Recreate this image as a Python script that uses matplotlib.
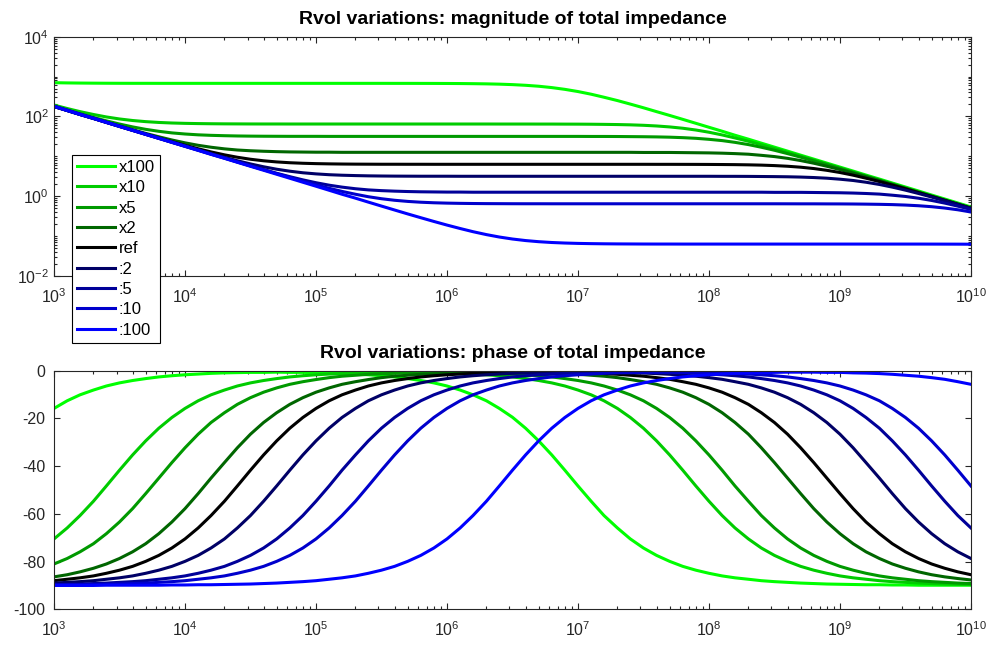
import numpy as np
import matplotlib
matplotlib.use("Agg")
import matplotlib.pyplot as plt
from matplotlib.ticker import LogLocator, FixedLocator, LogFormatterSciNotation, NullFormatter

# frequency points the curves were read at (every 0.1 decade, Hz)
freq = [1.00e3, 1.26e3, 1.58e3, 2.00e3, 2.51e3, 3.16e3, 3.98e3, 5.01e3, 6.31e3, 7.94e3,
        1.00e4, 1.26e4, 1.58e4, 2.00e4, 2.51e4, 3.16e4, 3.98e4, 5.01e4, 6.31e4, 7.94e4,
        1.00e5, 1.26e5, 1.58e5, 2.00e5, 2.51e5, 3.16e5, 3.98e5, 5.01e5, 6.31e5, 7.94e5,
        1.00e6, 1.26e6, 1.58e6, 2.00e6, 2.51e6, 3.16e6, 3.98e6, 5.01e6, 6.31e6, 7.94e6,
        1.00e7, 1.26e7, 1.58e7, 2.00e7, 2.51e7, 3.16e7, 3.98e7, 5.01e7, 6.31e7, 7.94e7,
        1.00e8, 1.26e8, 1.58e8, 2.00e8, 2.51e8, 3.16e8, 3.98e8, 5.01e8, 6.31e8, 7.94e8,
        1.00e9, 1.26e9, 1.58e9, 2.00e9, 2.51e9, 3.16e9, 3.98e9, 5.01e9, 6.31e9, 7.94e9,
        1.00e10]
freq_ticks = [1e3, 1e4, 1e5, 1e6, 1e7, 1e8, 1e9, 1e10]

labels = ["x100", "x10", "x5", "x2", "ref", ":2", ":5", ":10", ":100"]
colors = ["#00ff00", "#00cc00", "#009900", "#006600", "#000000",
          "#000066", "#000099", "#0000cc", "#0000ff"]

# |Z| per Rvol variation
mag_x100 = [702, 693, 687, 683, 680, 678, 677, 677, 676, 676,
            676, 676, 676, 676, 676, 676, 676, 676, 676, 676,
            676, 676, 676, 676, 676, 676, 675, 675, 674, 673,
            671, 668, 663, 656, 645, 628, 604, 572, 529, 478,
            421, 361, 303, 250, 204, 165, 132, 106, 84.5, 67.3,
            53.5, 42.6, 33.8, 26.9, 21.4, 17.0, 13.5, 10.7, 8.51, 6.76,
            5.37, 4.27, 3.39, 2.69, 2.14, 1.70, 1.35, 1.07, 0.851, 0.676,
            0.537]
mag_x10 = [193, 158, 132, 112, 97.1, 86.5, 79.1, 74.1, 70.7, 68.5,
           67.1, 66.2, 65.6, 65.2, 65.0, 64.8, 64.7, 64.7, 64.6, 64.6,
           64.6, 64.6, 64.6, 64.6, 64.6, 64.6, 64.6, 64.6, 64.6, 64.6,
           64.6, 64.6, 64.6, 64.6, 64.5, 64.5, 64.5, 64.4, 64.4, 64.2,
           64.1, 63.8, 63.3, 62.6, 61.6, 60.0, 57.7, 54.6, 50.6, 45.7,
           40.2, 34.4, 28.9, 23.9, 19.5, 15.7, 12.6, 10.1, 8.07, 6.42,
           5.11, 4.07, 3.23, 2.57, 2.04, 1.62, 1.29, 1.02, 0.813, 0.646,
           0.513]
mag_x5 = [181, 145, 117, 94.6, 77.5, 64.5, 54.7, 47.5, 42.4, 38.7,
          36.3, 34.6, 33.6, 32.9, 32.4, 32.1, 31.9, 31.8, 31.7, 31.7,
          31.7, 31.6, 31.6, 31.6, 31.6, 31.6, 31.6, 31.6, 31.6, 31.6,
          31.6, 31.6, 31.6, 31.6, 31.6, 31.6, 31.6, 31.6, 31.6, 31.6,
          31.6, 31.5, 31.5, 31.4, 31.2, 31.0, 30.7, 30.2, 29.4, 28.3,
          26.7, 24.8, 22.4, 19.7, 16.9, 14.2, 11.7, 9.53, 7.70, 6.19,
          4.95, 3.95, 3.15, 2.50, 1.99, 1.58, 1.26, 1.00, 0.794, 0.631,
          0.501]
mag_x2 = [178, 142, 113, 90.0, 71.9, 57.6, 46.4, 37.6, 30.9, 25.7,
          21.8, 18.9, 16.9, 15.4, 14.4, 13.8, 13.4, 13.1, 12.9, 12.8,
          12.7, 12.7, 12.6, 12.6, 12.6, 12.6, 12.6, 12.6, 12.6, 12.6,
          12.6, 12.6, 12.6, 12.6, 12.6, 12.6, 12.6, 12.6, 12.6, 12.6,
          12.6, 12.6, 12.6, 12.6, 12.6, 12.5, 12.5, 12.5, 12.4, 12.3,
          12.2, 12.0, 11.7, 11.3, 10.6, 9.86, 8.90, 7.83, 6.72, 5.64,
          4.66, 3.80, 3.07, 2.46, 1.97, 1.57, 1.25, 0.997, 0.793, 0.630,
          0.501]
mag_ref = [178, 141, 112, 89.3, 71.1, 56.6, 45.1, 36.1, 28.9, 23.3,
           18.9, 15.5, 12.9, 10.9, 9.48, 8.45, 7.73, 7.24, 6.91, 6.70,
           6.56, 6.47, 6.41, 6.37, 6.35, 6.33, 6.33, 6.32, 6.32, 6.31,
           6.31, 6.31, 6.31, 6.31, 6.31, 6.31, 6.31, 6.31, 6.31, 6.31,
           6.31, 6.31, 6.31, 6.31, 6.31, 6.31, 6.30, 6.30, 6.29, 6.28,
           6.26, 6.23, 6.19, 6.12, 6.02, 5.86, 5.64, 5.34, 4.94, 4.46,
           3.93, 3.37, 2.83, 2.33, 1.90, 1.54, 1.23, 0.988, 0.788, 0.628,
           0.500]
mag_d2 = [178, 141, 112, 89.2, 70.9, 56.3, 44.8, 35.6, 28.4, 22.6,
          18.1, 14.5, 11.7, 9.46, 7.75, 6.45, 5.47, 4.75, 4.24, 3.87,
          3.63, 3.46, 3.36, 3.29, 3.24, 3.21, 3.19, 3.18, 3.17, 3.17,
          3.17, 3.16, 3.16, 3.16, 3.16, 3.16, 3.16, 3.16, 3.16, 3.16,
          3.16, 3.16, 3.16, 3.16, 3.16, 3.16, 3.16, 3.16, 3.16, 3.16,
          3.16, 3.15, 3.15, 3.14, 3.12, 3.10, 3.07, 3.02, 2.94, 2.83,
          2.67, 2.48, 2.24, 1.97, 1.69, 1.42, 1.17, 0.954, 0.771, 0.619,
          0.495]
mag_d5 = [178, 141, 112, 89.1, 70.8, 56.2, 44.7, 35.5, 28.2, 22.4,
          17.8, 14.2, 11.3, 9.00, 7.19, 5.76, 4.64, 3.76, 3.09, 2.57,
          2.18, 1.89, 1.69, 1.54, 1.44, 1.38, 1.34, 1.31, 1.29, 1.28,
          1.27, 1.27, 1.26, 1.26, 1.26, 1.26, 1.26, 1.26, 1.26, 1.26,
          1.26, 1.26, 1.26, 1.26, 1.26, 1.26, 1.26, 1.26, 1.26, 1.26,
          1.26, 1.26, 1.26, 1.26, 1.26, 1.25, 1.25, 1.25, 1.24, 1.23,
          1.22, 1.20, 1.17, 1.13, 1.06, 0.986, 0.890, 0.783, 0.672, 0.564,
          0.466]
mag_d10 = [182, 145, 115, 91.2, 72.4, 57.5, 45.7, 36.3, 28.8, 22.9,
           18.2, 14.5, 11.5, 9.14, 7.27, 5.79, 4.62, 3.69, 2.96, 2.38,
           1.93, 1.58, 1.32, 1.12, 0.971, 0.865, 0.791, 0.741, 0.707, 0.685,
           0.671, 0.662, 0.656, 0.652, 0.650, 0.648, 0.647, 0.647, 0.646, 0.646,
           0.646, 0.646, 0.646, 0.646, 0.646, 0.646, 0.646, 0.646, 0.646, 0.646,
           0.646, 0.646, 0.646, 0.646, 0.646, 0.646, 0.645, 0.644, 0.644, 0.642,
           0.641, 0.638, 0.633, 0.626, 0.616, 0.600, 0.577, 0.546, 0.505, 0.457,
           0.402]
mag_d100 = [178, 141, 112, 89.1, 70.8, 56.2, 44.7, 35.5, 28.2, 22.4,
            17.8, 14.1, 11.2, 8.91, 7.08, 5.62, 4.47, 3.55, 2.82, 2.24,
            1.78, 1.41, 1.12, 0.894, 0.711, 0.566, 0.451, 0.360, 0.289, 0.233,
            0.189, 0.155, 0.129, 0.109, 0.0948, 0.0845, 0.0773, 0.0724, 0.0691, 0.0670,
            0.0656, 0.0647, 0.0641, 0.0637, 0.0635, 0.0633, 0.0632, 0.0632, 0.0631, 0.0631,
            0.0631, 0.0631, 0.0631, 0.0631, 0.0631, 0.0631, 0.0631, 0.0631, 0.0631, 0.0631,
            0.0631, 0.0631, 0.0631, 0.0631, 0.0631, 0.0631, 0.0631, 0.0630, 0.0629, 0.0628,
            0.0626]

# phase (deg) per Rvol variation
ph_x100 = [-15.8, -12.6, -10.1, -8.1, -6.4, -5.1, -4.1, -3.3, -2.6, -2.1,
           -1.7, -1.4, -1.1, -0.9, -0.8, -0.7, -0.7, -0.6, -0.7, -0.7,
           -0.8, -0.9, -1.1, -1.4, -1.7, -2.1, -2.6, -3.3, -4.1, -5.1,
           -6.4, -8.1, -10.1, -12.6, -15.8, -19.5, -24.1, -29.4, -35.3, -41.7,
           -48.3, -54.7, -60.7, -65.9, -70.5, -74.3, -77.4, -79.9, -82.0, -83.6,
           -84.9, -86.0, -86.8, -87.4, -88.0, -88.4, -88.7, -89.0, -89.2, -89.4,
           -89.5, -89.6, -89.7, -89.7, -89.8, -89.8, -89.9, -89.9, -89.9, -89.9,
           -89.9]
ph_x10 = [-70.5, -65.9, -60.7, -54.7, -48.3, -41.7, -35.3, -29.4, -24.1, -19.6,
          -15.8, -12.6, -10.1, -8.1, -6.4, -5.1, -4.1, -3.3, -2.6, -2.1,
          -1.7, -1.4, -1.2, -1.0, -0.8, -0.8, -0.7, -0.7, -0.8, -0.8,
          -1.0, -1.2, -1.4, -1.7, -2.1, -2.6, -3.3, -4.1, -5.1, -6.4,
          -8.1, -10.1, -12.6, -15.8, -19.6, -24.1, -29.4, -35.3, -41.7, -48.3,
          -54.7, -60.7, -65.9, -70.5, -74.3, -77.4, -79.9, -82.0, -83.6, -84.9,
          -86.0, -86.8, -87.4, -88.0, -88.4, -88.7, -89.0, -89.2, -89.4, -89.5,
          -89.6]
ph_x5 = [-81.0, -78.7, -75.9, -72.5, -68.3, -63.4, -57.8, -51.5, -45.0, -38.5,
         -32.3, -26.6, -21.7, -17.6, -14.1, -11.3, -9.0, -7.2, -5.7, -4.6,
         -3.7, -2.9, -2.3, -1.9, -1.5, -1.3, -1.1, -0.9, -0.8, -0.8,
         -0.8, -0.8, -0.9, -1.0, -1.2, -1.4, -1.7, -2.1, -2.6, -3.3,
         -4.1, -5.1, -6.4, -8.1, -10.1, -12.6, -15.8, -19.6, -24.1, -29.4,
         -35.3, -41.7, -48.3, -54.7, -60.7, -65.9, -70.5, -74.3, -77.4, -79.9,
         -82.0, -83.6, -84.9, -86.0, -86.8, -87.4, -88.0, -88.4, -88.7, -89.0,
         -89.2]
ph_x2 = [-86.4, -85.5, -84.3, -82.8, -81.0, -78.7, -75.9, -72.5, -68.3, -63.4,
         -57.8, -51.5, -45.0, -38.5, -32.3, -26.6, -21.7, -17.6, -14.1, -11.3,
         -9.0, -7.2, -5.7, -4.6, -3.7, -2.9, -2.3, -1.9, -1.5, -1.3,
         -1.1, -0.9, -0.8, -0.7, -0.7, -0.7, -0.8, -0.9, -1.1, -1.3,
         -1.5, -1.9, -2.3, -2.9, -3.7, -4.6, -5.7, -7.2, -9.0, -11.3,
         -14.1, -17.6, -21.7, -26.6, -32.3, -38.5, -45.0, -51.5, -57.8, -63.4,
         -68.3, -72.5, -75.9, -78.7, -81.0, -82.8, -84.3, -85.5, -86.4, -87.1,
         -87.7]
ph_ref = [-88.0, -87.4, -86.8, -86.0, -84.9, -83.6, -82.0, -79.9, -77.4, -74.3,
          -70.5, -65.9, -60.7, -54.7, -48.3, -41.7, -35.3, -29.4, -24.1, -19.6,
          -15.8, -12.6, -10.1, -8.1, -6.4, -5.1, -4.1, -3.3, -2.6, -2.1,
          -1.7, -1.4, -1.1, -1.0, -0.8, -0.7, -0.7, -0.7, -0.7, -0.8,
          -0.9, -1.0, -1.2, -1.5, -1.9, -2.3, -2.9, -3.6, -4.6, -5.7,
          -7.2, -9.0, -11.3, -14.1, -17.6, -21.7, -26.6, -32.3, -38.5, -45.0,
          -51.5, -57.8, -63.4, -68.3, -72.5, -75.9, -78.7, -81.0, -82.8, -84.3,
          -85.5]
ph_d2 = [-89.0, -88.7, -88.4, -88.0, -87.4, -86.8, -86.0, -84.9, -83.6, -82.0,
         -79.9, -77.4, -74.3, -70.5, -65.9, -60.7, -54.7, -48.3, -41.7, -35.3,
         -29.4, -24.1, -19.6, -15.8, -12.6, -10.1, -8.1, -6.4, -5.1, -4.1,
         -3.3, -2.6, -2.1, -1.7, -1.4, -1.1, -0.9, -0.8, -0.7, -0.6,
         -0.6, -0.6, -0.7, -0.7, -0.9, -1.0, -1.2, -1.5, -1.9, -2.3,
         -2.9, -3.6, -4.6, -5.7, -7.2, -9.0, -11.3, -14.1, -17.6, -21.7,
         -26.6, -32.3, -38.5, -45.0, -51.5, -57.8, -63.4, -68.3, -72.5, -75.9,
         -78.7]
ph_d5 = [-89.6, -89.5, -89.4, -89.2, -89.0, -88.7, -88.4, -88.0, -87.4, -86.8,
         -86.0, -84.9, -83.6, -82.0, -79.9, -77.4, -74.3, -70.5, -65.9, -60.7,
         -54.7, -48.3, -41.7, -35.3, -29.4, -24.1, -19.6, -15.8, -12.6, -10.1,
         -8.1, -6.4, -5.1, -4.1, -3.3, -2.6, -2.1, -1.7, -1.4, -1.1,
         -0.9, -0.8, -0.7, -0.7, -0.6, -0.7, -0.7, -0.8, -0.9, -1.1,
         -1.4, -1.7, -2.1, -2.6, -3.3, -4.1, -5.1, -6.4, -8.1, -10.1,
         -12.6, -15.8, -19.6, -24.1, -29.4, -35.3, -41.7, -48.3, -54.7, -60.7,
         -65.9]
ph_d10 = [-89.8, -89.7, -89.7, -89.6, -89.5, -89.4, -89.2, -89.0, -88.7, -88.4,
          -88.0, -87.4, -86.8, -86.0, -84.9, -83.6, -82.0, -79.9, -77.4, -74.3,
          -70.5, -65.9, -60.7, -54.7, -48.3, -41.7, -35.3, -29.4, -24.1, -19.6,
          -15.8, -12.6, -10.1, -8.1, -6.4, -5.1, -4.1, -3.3, -2.6, -2.1,
          -1.7, -1.4, -1.1, -0.9, -0.8, -0.7, -0.7, -0.6, -0.7, -0.7,
          -0.8, -0.9, -1.1, -1.4, -1.7, -2.1, -2.6, -3.3, -4.1, -5.1,
          -6.4, -8.1, -10.1, -12.6, -15.8, -19.6, -24.1, -29.4, -35.3, -41.7,
          -48.3]
ph_d100 = [-90.0, -90.0, -90.0, -90.0, -89.9, -89.9, -89.9, -89.9, -89.9, -89.8,
           -89.8, -89.7, -89.7, -89.6, -89.5, -89.4, -89.2, -89.0, -88.7, -88.4,
           -88.0, -87.4, -86.8, -86.0, -84.9, -83.6, -82.0, -79.9, -77.4, -74.3,
           -70.5, -65.9, -60.7, -54.7, -48.3, -41.7, -35.3, -29.4, -24.1, -19.6,
           -15.8, -12.6, -10.1, -8.1, -6.4, -5.1, -4.1, -3.3, -2.6, -2.1,
           -1.7, -1.4, -1.1, -0.9, -0.8, -0.7, -0.6, -0.6, -0.6, -0.7,
           -0.7, -0.9, -1.0, -1.2, -1.5, -1.9, -2.3, -2.9, -3.6, -4.6,
           -5.7]

mags = [mag_x100, mag_x10, mag_x5, mag_x2, mag_ref, mag_d2, mag_d5, mag_d10, mag_d100]
phases = [ph_x100, ph_x10, ph_x5, ph_x2, ph_ref, ph_d2, ph_d5, ph_d10, ph_d100]

plt.rcParams["font.family"] = ["Liberation Sans", "DejaVu Sans"]
plt.rcParams["axes.unicode_minus"] = False
axcol = "#262626"

fig = plt.figure(figsize=(9.93, 6.48), dpi=100)
ax1 = fig.add_axes([0.0544, 0.5741, 0.9234, 0.3693])
ax2 = fig.add_axes([0.0544, 0.0597, 0.9234, 0.3682])

for name, col, m, p in zip(labels, colors, mags, phases):
    ax1.plot(freq, m, color=col, lw=2.2, label=name)
    ax2.plot(freq, p, color=col, lw=2.2)

ax1.set_xscale("log")
ax1.set_yscale("log")
ax1.set_xlim(1e3, 1e10)
ax1.set_ylim(1e-2, 1e4)
ax1.yaxis.set_major_locator(FixedLocator([1e-2, 1e0, 1e2, 1e4]))
ax1.yaxis.set_major_formatter(LogFormatterSciNotation())
ax1.yaxis.set_minor_locator(LogLocator(base=10, subs=np.arange(1, 10), numticks=30))
ax1.yaxis.set_minor_formatter(NullFormatter())
ax1.set_title("Rvol variations: magnitude of total impedance", fontsize=14,
              fontweight="bold", color="black", pad=9)

ax2.set_xscale("log")
ax2.set_xlim(1e3, 1e10)
ax2.set_ylim(-100, 0)
ax2.yaxis.set_major_locator(FixedLocator([-100, -80, -60, -40, -20, 0]))
ax2.set_title("Rvol variations: phase of total impedance", fontsize=14,
              fontweight="bold", color="black", pad=9)

for ax in (ax1, ax2):
    ax.xaxis.set_major_locator(FixedLocator(freq_ticks))
    ax.xaxis.set_major_formatter(LogFormatterSciNotation())
    ax.xaxis.set_minor_locator(LogLocator(base=10, subs=np.arange(2, 10), numticks=30))
    ax.xaxis.set_minor_formatter(NullFormatter())
    ax.tick_params(which="both", direction="in", top=True, right=True,
                   colors=axcol, labelsize=11.5, width=0.8)
    ax.tick_params(which="major", length=4.5)
    ax.tick_params(which="minor", length=2.5)
    ax.tick_params(axis="x", which="major", pad=8)
    for s in ax.spines.values():
        s.set_color(axcol)
        s.set_linewidth(0.8)
ax2.tick_params(axis="y", which="major", pad=6)

leg = ax1.legend(loc="upper left", bbox_to_anchor=(0.0196, 0.506), fontsize=12,
                 handlelength=2.3, handletextpad=0.2, labelspacing=0.32,
                 borderpad=0.3, borderaxespad=0, fancybox=False, framealpha=1)
leg.get_frame().set_edgecolor("black")
leg.get_frame().set_linewidth(0.8)

fig.savefig("out.png", dpi=100)
